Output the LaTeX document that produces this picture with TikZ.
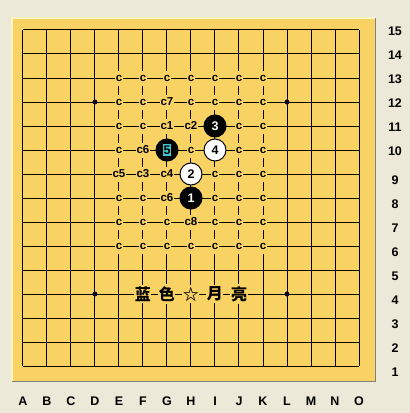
\documentclass[tikz,border=0pt]{standalone}
\usepackage{fontspec}
\setmainfont{Liberation Sans}
\newfontfamily\cjkfont{Noto Sans CJK SC}
\usepackage{tikz}
\usetikzlibrary{positioning}
\usepackage{xcolor}
\definecolor{cBoard}{RGB}{248,210,98}
\definecolor{cWindow}{RGB}{236,233,216}
\definecolor{cEdgeLight}{RGB}{255,244,196}
\definecolor{cEdgeDark}{RGB}{128,128,128}
\definecolor{cMark}{RGB}{64,200,208}
\tikzset{
  gridline/.style={line width=1pt, draw=black},
  hoshi/.style={circle, fill=black, inner sep=0pt, minimum size=5pt},
  candnode/.style={fill=cBoard, inner xsep=1pt, inner ysep=0pt,
                   minimum height=15pt,
                   font=\fontsize{11.5}{11.5}\selectfont\bfseries},
  blackstone/.style={circle, fill=black, draw=black, line width=1pt,
                     minimum size=22pt, inner sep=0pt, text=white,
                     font=\fontsize{12.5}{12.5}\selectfont\bfseries},
  whitestone/.style={blackstone, fill=white, text=black},
  marknode/.style={fill=cMark, inner xsep=1pt, inner ysep=1.5pt,
                   text=black, font=\fontsize{12.5}{12.5}\selectfont\bfseries},
  cjknode/.style={fill=cBoard, inner xsep=0.5pt, inner ysep=2pt,
                  font=\fontsize{16}{16}\selectfont\cjkfont\bfseries},
  coordlabel/.style={font=\fontsize{12.5}{12.5}\selectfont\bfseries}
}

\begin{document}
\begin{tikzpicture}[x=24pt, y=24pt]
  % window and board panel
  \useasboundingbox[fill=cWindow] (-0.9583,-1.9583) rectangle (16.125,15.25);
  \fill[cBoard] (-0.4583,-0.625) rectangle (14.667,14.5);
  \draw[cEdgeLight, line width=2pt] (-0.4583,-0.625) -- (-0.4583,14.5) -- (14.667,14.5);
  \draw[cEdgeDark, line width=1pt] (14.667,14.5) -- (14.667,-0.625) -- (-0.4583,-0.625);

  % grid
  \foreach \i in {0,...,14} {
    \draw[gridline] (\i,0) -- (\i,14);
    \draw[gridline] (0,\i) -- (14,\i);
  }
  \foreach \x/\y in {3/11, 11/11, 3/3, 11/3}
    \node[hoshi] (hoshi-\x-\y) at (\x,\y) {};

  % candidate points
  \foreach \x/\y/\t in {4/12/c, 5/12/c, 6/12/c, 7/12/c, 8/12/c, 9/12/c, 10/12/c,
                        4/11/c, 5/11/c, 6/11/c7, 7/11/c, 8/11/c, 9/11/c, 10/11/c,
                        4/10/c, 5/10/c, 6/10/c1, 7/10/c2, 9/10/c, 10/10/c,
                        4/9/c, 5/9/c6, 7/9/c, 9/9/c, 10/9/c,
                        4/8/c5, 5/8/c3, 6/8/c4, 8/8/c, 9/8/c, 10/8/c,
                        4/7/c, 5/7/c, 6/7/c6, 8/7/c, 9/7/c, 10/7/c,
                        4/6/c, 5/6/c, 6/6/c, 7/6/c8, 8/6/c, 9/6/c, 10/6/c,
                        4/5/c, 5/5/c, 6/5/c, 7/5/c, 8/5/c, 9/5/c, 10/5/c}
    \node[candnode] (cand-\x-\y) at (\x,\y) {\t};

  % stones
  \node[blackstone] (stone1) at (7,7) {1};
  \node[whitestone] (stone2) at (7,8) {2};
  \node[blackstone] (stone3) at (8,10) {3};
  \node[whitestone] (stone4) at (8,9) {4};
  \node[blackstone] (stone5) at (6,9) {};
  \node[marknode] (mark5) at (stone5) {5};

  % caption on the board
  \foreach \x/\t in {5/蓝, 6/色, 7/☆, 8/月, 9/亮}
    \node[cjknode] (title-\x) at (\x,3) {\t};

  % coordinates
  \foreach \r in {10,...,15}
    \node[coordlabel] (row-\r) at (15.5,\r-1.04) {\r};
  \foreach \r in {1,...,9}
    \node[coordlabel] (row-\r) at (15.5,\r-1.25) {\r};
  \foreach \l [count=\i from 0] in {A,...,O}
    \node[coordlabel] (col-\l) at (\i,-1.48) {\l};
\end{tikzpicture}
\end{document}
